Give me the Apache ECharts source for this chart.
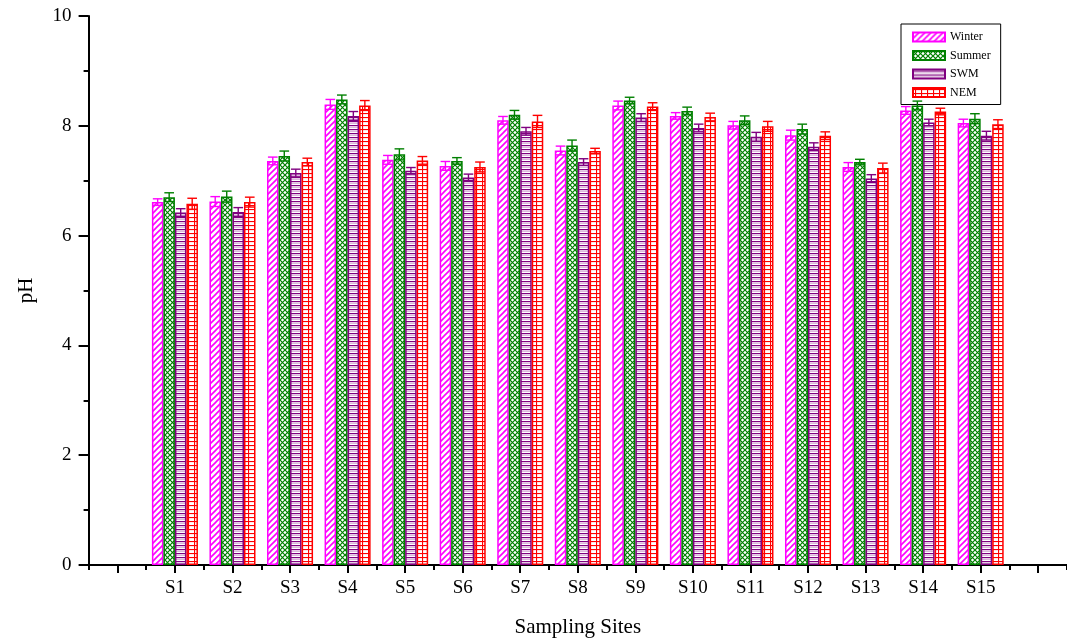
<!DOCTYPE html>
<html>
<head>
<meta charset="utf-8">
<script src="https://cdn.jsdelivr.net/npm/echarts@6/dist/echarts.min.js"></script>
<style>html,body{margin:0;padding:0;background:#fff}#c{width:1067px;height:643px}</style>
</head>
<body>
<div id="c"></div>
<script>
const sites = ['S1','S2','S3','S4','S5','S6','S7','S8','S9','S10','S11','S12','S13','S14','S15'];
const seriesNames = ['Winter','Summer','SWM','NEM'];
const winter = [6.61,6.62,7.36,8.39,7.38,7.27,8.10,7.55,8.37,8.18,8.01,7.83,7.25,8.28,8.05];
const summer = [6.70,6.71,7.45,8.48,7.48,7.36,8.20,7.64,8.46,8.27,8.10,7.94,7.34,8.37,8.13];
const swm    = [6.42,6.43,7.14,8.18,7.18,7.06,7.90,7.34,8.15,7.96,7.80,7.62,7.04,8.06,7.82];
const nem    = [6.58,6.61,7.34,8.37,7.37,7.25,8.08,7.54,8.35,8.16,7.99,7.82,7.23,8.26,8.03];
const winterErr = [0.06,0.09,0.07,0.09,0.08,0.08,0.07,0.08,0.08,0.06,0.07,0.09,0.08,0.07,0.07];
const summerErr = [0.08,0.10,0.09,0.08,0.10,0.06,0.08,0.10,0.06,0.07,0.08,0.09,0.05,0.08,0.09];
const swmErr    = [0.07,0.08,0.07,0.08,0.06,0.06,0.07,0.06,0.07,0.07,0.08,0.07,0.07,0.06,0.08];
const nemErr    = [0.10,0.09,0.07,0.09,0.07,0.09,0.11,0.05,0.07,0.07,0.09,0.07,0.09,0.06,0.08];
const yTicks = [0,2,4,6,8,10];

const colors = ['#FF00FF','#008000','#800080','#FF0000'];
const values = [winter, summer, swm, nem];
const errs = [winterErr, summerErr, swmErr, nemErr];

// categories padded with an empty slot on each side
const cats = [''].concat(sites, ['']);

function pattern(w, h, draw) {
  const c = document.createElement('canvas');
  c.width = w; c.height = h;
  const ctx = c.getContext('2d');
  ctx.fillStyle = '#fff'; ctx.fillRect(0,0,w,h);
  draw(ctx);
  return {image: c, repeat: 'repeat'};
}
const patterns = [
  pattern(6,6,function(ctx){ctx.strokeStyle=colors[0];ctx.lineWidth=1.6;
    ctx.beginPath();ctx.moveTo(-1,7);ctx.lineTo(7,-1);ctx.moveTo(-2,2);ctx.lineTo(2,-2);ctx.moveTo(4,8);ctx.lineTo(8,4);ctx.stroke();}),
  pattern(5,5,function(ctx){ctx.strokeStyle=colors[1];ctx.lineWidth=1.2;
    ctx.beginPath();ctx.moveTo(-1,6);ctx.lineTo(6,-1);ctx.moveTo(-1,-1);ctx.lineTo(6,6);ctx.stroke();}),
  pattern(4,4,function(ctx){ctx.fillStyle=colors[2];ctx.fillRect(0,1,4,1.2);ctx.globalAlpha=0.35;ctx.fillRect(0,3,4,0.8);}),
  pattern(6,4,function(ctx){ctx.fillStyle=colors[3];ctx.fillRect(0,1,6,1.1);ctx.fillRect(2,0,1.1,4);})
];

const FONT = "'Liberation Serif','Times New Roman',serif";

const series = [];
for (let k = 0; k < 4; k++) {
  series.push({
    name: seriesNames[k],
    type: 'bar',
    xAxisIndex: 0,
    barGap: '0%',
    barCategoryGap: '20%',
    data: ['-'].concat(values[k], ['-']),
    itemStyle: {color: patterns[k], borderColor: colors[k], borderWidth: 1.5},
    emphasis: {disabled: true},
    z: 2
  });
}
for (let k = 0; k < 4; k++) {
  const d = values[k].map(function(v, i){ return [i + 1, v, errs[k][i]]; });
  series.push({
    type: 'custom',
    name: seriesNames[k] + ' err',
    xAxisIndex: 0,
    data: d,
    z: 5,
    silent: true,
    encode: {x: 0, y: 1},
    renderItem: (function(kk){ return function(params, api){
      const idx = api.value(0), v = api.value(1), e = api.value(2);
      const catW = api.size([1,0])[0];
      const bw = catW * 0.8 / 4;
      const off = (kk - 1.5) * bw;
      const top = api.coord([idx, v + e]);
      const bot = api.coord([idx, v - e]);
      const x = top[0] + off;
      const half = bw * 0.42;
      const st = {stroke: colors[kk], lineWidth: 1.4, fill: null};
      return {type: 'group', children: [
        {type: 'line', shape: {x1: x, y1: top[1], x2: x, y2: bot[1]}, style: st},
        {type: 'line', shape: {x1: x - half, y1: top[1], x2: x + half, y2: top[1]}, style: st},
        {type: 'line', shape: {x1: x - half, y1: bot[1], x2: x + half, y2: bot[1]}, style: st}
      ]};
    }; })(k)
  });
}

const chart = echarts.init(document.getElementById('c'));
chart.setOption({
  animation: false,
  backgroundColor: '#fff',
  grid: {left: 88.6, top: 16, bottom: 76.3, right: -8.3, containLabel: false},
  legend: {
    data: seriesNames,
    orient: 'vertical',
    left: 901, top: 24,
    padding: [7, 10, 6, 11],
    itemWidth: 32, itemHeight: 9, itemGap: 6.5,
    icon: 'rect',
    borderColor: '#000', borderWidth: 1,
    textStyle: {fontFamily: FONT, fontSize: 12, color: '#000'}
  },
  xAxis: [{
    type: 'category', data: cats, position: 'bottom',
    name: 'Sampling Sites', nameLocation: 'middle', nameGap: 52,
    nameTextStyle: {fontFamily: FONT, fontSize: 21, color: '#000'},
    axisLine: {show: true, lineStyle: {color: '#000', width: 2}},
    axisTick: {show: true, alignWithLabel: true, interval: 0, inside: false, length: 8, lineStyle: {color: '#000', width: 2}},
    axisLabel: {show: true, interval: 0, margin: 14, fontFamily: FONT, fontSize: 19, color: '#000'},
    splitLine: {show: false}
  }, {
    type: 'category', data: cats, position: 'bottom',
    axisLine: {show: false},
    axisTick: {show: true, interval: 0, inside: false, length: 5, lineStyle: {color: '#000', width: 2}},
    axisLabel: {show: false},
    splitLine: {show: false}
  }],
  yAxis: {
    type: 'value', min: yTicks[0], max: yTicks[yTicks.length-1], interval: 2,
    name: 'pH', nameLocation: 'middle', nameGap: 52,
    nameTextStyle: {fontFamily: FONT, fontSize: 21, color: '#000'},
    axisLine: {show: true, lineStyle: {color: '#000', width: 2}},
    axisTick: {show: true, length: 10, lineStyle: {color: '#000', width: 2}},
    minorTick: {show: true, splitNumber: 2, length: 5, lineStyle: {color: '#000', width: 2}},
    axisLabel: {margin: 17, fontFamily: FONT, fontSize: 19, color: '#000'},
    splitLine: {show: false}
  },
  series: series
});
</script>
</body>
</html>
